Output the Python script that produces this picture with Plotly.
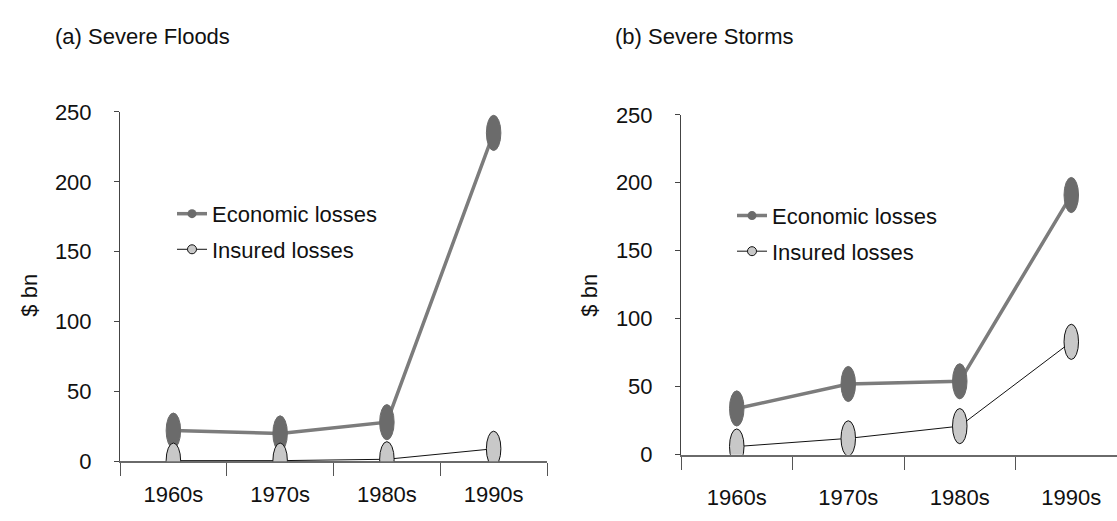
import plotly.graph_objects as go

# Decade categories and losses in $ bn
decades = ["1960s", "1970s", "1980s", "1990s"]
flood_economic = [22, 20, 28, 235]
flood_insured = [0.5, 0.5, 1.5, 9]
storm_economic = [34, 52, 54, 191]
storm_insured = [6, 12, 21, 83]
y_tick_values = [0, 50, 100, 150, 200, 250]

W, H = 1117, 521
FONT = "Liberation Sans, Arial, sans-serif"
TXT = "#111111"

ECON_LINE = "#7c7c7c"
ECON_FILL = "#6b6b6b"
INS_FILL = "#c8c8c8"
INS_EDGE = "#111111"

# Panel geometry in pixels: plot edges, y of 0 and of 250, visible x range
panels = [
    dict(x0=120, x1=547, y0=472, y1=105, xrange=[-0.5, 3.5], xstand=12,
         econ=flood_economic, ins=flood_insured, title="(a) Severe Floods",
         title_x=53, ylab_x=30, legend_x=172, legend_y=190),
    dict(x0=681, x1=1117, y0=465, y1=108, xrange=[-0.5, 3.41], xstand=22,
         econ=storm_economic, ins=storm_insured, title="(b) Severe Storms",
         title_x=613, ylab_x=590, legend_x=732, legend_y=192),
]

fig = go.Figure()
shapes = []
annotations = []

for k, p in enumerate(panels):
    sfx = "" if k == 0 else str(k + 1)
    xa, ya = "x" + sfx, "y" + sfx
    leg = "legend" + sfx

    fig.add_trace(go.Scatter(
        x=decades, y=p["econ"], name="Economic losses", mode="lines+markers",
        line=dict(color=ECON_LINE, width=3.5),
        marker=dict(symbol="circle", size=9, color=ECON_FILL),
        xaxis=xa, yaxis=ya, legend=leg, legendgroup="econ" + sfx,
    ))
    fig.add_trace(go.Scatter(
        x=decades, y=p["ins"], name="Insured losses", mode="lines+markers",
        line=dict(color=INS_EDGE, width=1),
        marker=dict(symbol="circle", size=9, color=INS_FILL,
                    line=dict(color=INS_EDGE, width=1)),
        xaxis=xa, yaxis=ya, legend=leg, legendgroup="ins" + sfx,
    ))

    fig.update_layout(**{
        "xaxis" + sfx: dict(
            domain=[p["x0"] / W, p["x1"] / W], anchor=ya,
            type="category", range=p["xrange"], tickson="boundaries",
            showline=True, linecolor="#6a6a6a", linewidth=2,
            ticks="outside", ticklen=13, tickwidth=1.3, tickcolor="#555555",
            ticklabelstandoff=p["xstand"],
            showgrid=False, zeroline=False,
            tickfont=dict(family=FONT, size=22, color=TXT),
        ),
        "yaxis" + sfx: dict(
            domain=[(H - p["y0"]) / H, (H - p["y1"]) / H], anchor=xa,
            range=[0, 250], tickvals=y_tick_values,
            showline=True, linecolor="#444444", linewidth=1,
            ticks="outside", ticklen=5, tickwidth=1, tickcolor="#444444",
            ticklabelstandoff=18,
            showgrid=False, zeroline=False,
            tickfont=dict(family=FONT, size=22, color=TXT),
        ),
        leg: dict(
            x=p["legend_x"] / W, y=(H - p["legend_y"]) / H,
            xanchor="left", yanchor="top",
            bgcolor="rgba(0,0,0,0)", font=dict(family=FONT, size=22, color=TXT),
            traceorder="grouped", tracegroupgap=4, itemwidth=30,
        ),
    })

    # Elliptical markers sized in pixels, placed through the axis scales
    px_per_x = (p["x1"] - p["x0"]) / (p["xrange"][1] - p["xrange"][0])
    px_per_y = (p["y0"] - p["y1"]) / 250.0
    hw = 7.25 / px_per_x
    hh = 18.5 / px_per_y
    for series, fill, edge in ((p["econ"], ECON_FILL, ECON_FILL),
                               (p["ins"], INS_FILL, INS_EDGE)):
        for i, v in enumerate(series):
            shapes.append(dict(
                type="circle", xref=xa, yref=ya, layer="above",
                x0=i - hw, x1=i + hw, y0=v - hh, y1=v + hh,
                fillcolor=fill, line=dict(color=edge, width=1),
            ))

    annotations.append(dict(
        text=p["title"], xref="paper", yref="paper",
        x=p["title_x"] / W, y=(H - 26) / H, xanchor="left", yanchor="middle",
        showarrow=False, font=dict(family=FONT, size=22, color=TXT),
    ))
    annotations.append(dict(
        text="$ bn", xref="paper", yref="paper", textangle=-90,
        x=p["ylab_x"] / W, y=(H - 298) / H, xanchor="center", yanchor="middle",
        showarrow=False, font=dict(family=FONT, size=22, color=TXT),
    ))

fig.update_layout(
    width=W, height=H,
    margin=dict(l=0, r=0, t=0, b=0),
    paper_bgcolor="white", plot_bgcolor="white",
    shapes=shapes, annotations=annotations,
    font=dict(family=FONT),
)

fig.write_html("out.html")
